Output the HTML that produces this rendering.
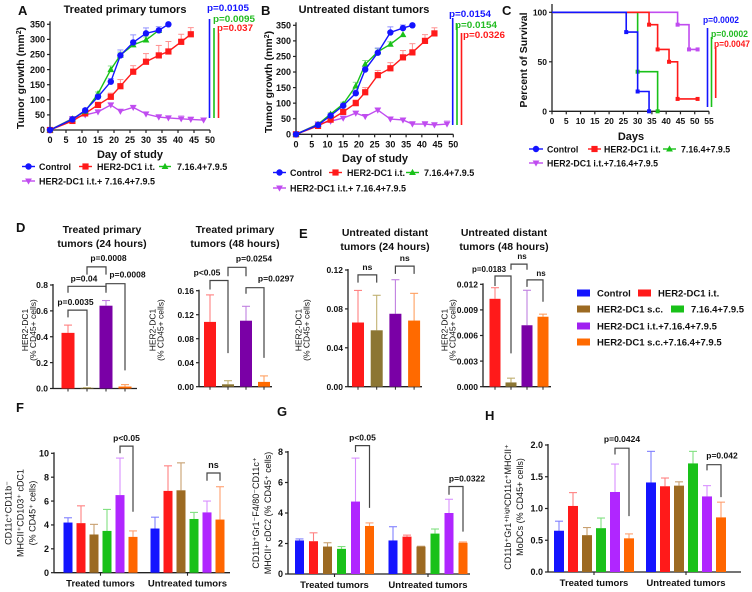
<!DOCTYPE html>
<html><head><meta charset="utf-8"><style>
html,body{margin:0;padding:0;background:#fff;}
svg{display:block;font-family:"Liberation Sans",Arial,sans-serif;}
</style></head><body>
<svg id="fig" width="752" height="592" viewBox="0 0 752 592" xmlns="http://www.w3.org/2000/svg"></svg>
<script>
// ===== Panel A data (treated primary tumors)
const aCtrlDays=[0,7,11,15,19,22,26,30,34,37];
const aCtrlVals=[0,35,65,110,160,247,290,320,330,350];
const aCtrlErr=[0,3,5,8,10,18,25,18,12,0];
const aItDays=[0,7,11,15,19,22,26,30,34,37,41,44];
const aItVals=[0,30,55,83,110,145,193,226,247,260,292,317];
const aItErr=[0,3,5,8,12,22,20,27,33,33,25,22];
const aComboDays=[0,7,11,15,19,22,26,30,34];
const aComboVals=[0,37,62,120,200,248,282,298,330];
const aComboErr=[0,3,5,6,12,10,8,10,0];
const aTripleDays=[0,7,11,15,19,22,26,30,34,37,41,44,48];
const aTripleVals=[0,38,50,60,83,62,75,53,43,40,37,35,33];
const aTripleErr=[0,3,3,3,5,6,5,7,8,6,10,8,6];
// ===== Panel B data (untreated distant tumors)
const bCtrlDays=[0,7,11,15,19,22,26,30,34,37];
const bCtrlVals=[0,30,60,92,132,208,262,327,341,350];
const bCtrlErr=[0,3,5,6,10,8,15,18,10,0];
const bItDays=[0,7,11,15,19,22,26,30,34,37,41,44];
const bItVals=[0,27,47,72,100,135,190,212,247,263,300,324];
const bItErr=[0,3,5,6,10,15,15,18,22,28,20,18];
const bComboDays=[0,7,11,15,19,22,26,30,34];
const bComboVals=[0,32,65,97,155,225,265,289,320];
const bComboErr=[0,3,4,6,12,12,10,8,0];
const bTripleDays=[0,7,11,15,19,22,26,30,34,37,41,44,48];
const bTripleVals=[0,33,42,52,68,57,78,49,46,33,33,30,33];
const bTripleErr=[0,4,4,4,5,5,6,6,6,8,8,8,10];
const lineXTicks=[0,5,10,15,20,25,30,35,40,45,50];
const lineYTicks=[0,50,100,150,200,250,300,350];
// ===== Panel C data (survival)
const cCtrlDays=[0,26,30,34];
const cCtrlVals=[100,80,20,0];
const cItDays=[0,34,37,41,44,51];
const cItVals=[100,87.5,62.5,50,12.5,12.5];
const cComboDays=[0,30,37];
const cComboVals=[100,40,0];
const cTripleDays=[0,44,48,51];
const cTripleVals=[100,87.5,62.5,62.5];
const cXTicks=[0,5,10,15,20,25,30,35,40,45,50,55];
const cYTicks=[0,50,100];
// ===== Panel D/E data (HER2-DC1 % CD45+)
const deGroups=['HER2-DC1 i.t.','HER2-DC1 s.c.','HER2-DC1 i.t.+7.16.4+7.9.5','HER2-DC1 s.c.+7.16.4+7.9.5'];
const d24Vals=[0.43,0.005,0.64,0.015];
const d24Err=[0.49,0.006,0.68,0.03];
const d24Ticks=[0,0.2,0.4,0.6,0.8];
const d48Vals=[0.108,0.004,0.11,0.008];
const d48Err=[0.153,0.01,0.134,0.018];
const d48Ticks=[0,0.04,0.08,0.12,0.16];
const e24Vals=[0.066,0.058,0.075,0.068];
const e24Err=[0.099,0.094,0.11,0.096];
const e24Ticks=[0,0.04,0.08,0.12];
const e48Vals=[0.0103,0.0005,0.0072,0.0082];
const e48Err=[0.0116,0.001,0.0113,0.0085];
const e48Ticks=[0,0.003,0.006,0.009,0.012];
// ===== Panels F/G/H data
const fghCategories=['Treated tumors','Untreated tumors'];
const fTreated=[4.2,4.15,3.2,3.5,6.5,3.0];
const fTreatedErr=[4.6,5.6,4.05,5.3,9.6,3.5];
const fUntreated=[3.7,6.85,6.9,4.5,5.05,4.45];
const fUntreatedErr=[4.65,8.95,9.2,5.05,6.0,7.2];
const fTicks=[0,2,4,6,8,10];
const gTreated=[2.2,2.15,1.8,1.65,4.75,3.15];
const gTreatedErr=[2.3,2.7,2.05,1.8,7.6,3.35];
const gUntreated=[2.2,2.45,1.8,2.65,4.0,2.05];
const gUntreatedErr=[3.1,2.55,1.82,2.95,4.9,2.1];
const gTicks=[0,2,4,6,8];
const hTreated=[0.65,1.04,0.58,0.69,1.26,0.53];
const hTreatedErr=[0.8,1.25,0.7,0.85,1.7,0.6];
const hUntreated=[1.41,1.35,1.36,1.71,1.19,0.86];
const hUntreatedErr=[1.9,1.48,1.42,1.9,1.36,1.1];
const hTicks=[0,0.5,1.0,1.5,2.0];

const NS='http://www.w3.org/2000/svg';
const svg=document.getElementById('fig');
const BLUE='#1414ff',RED='#ff1a1a',GREEN='#19c119',VIOLET='#c04cf0';
function mk(tag,attrs,name,parent){
  const e=document.createElementNS(NS,tag);
  for(const k in attrs) e.setAttribute(k,attrs[k]);
  
  
  (parent||svg).appendChild(e);
  return e;
}
function txt(x,y,s,name,o){
  o=o||{};
  const a={x:x,y:y,'font-size':o.size||9,'font-weight':o.weight||'bold','text-anchor':o.anchor||'start',fill:o.fill||'#111'};
  if(o.rot) a.transform='rotate(-90 '+x+' '+y+')';
  if(o.len){a.textLength=o.len;a.lengthAdjust='spacingAndGlyphs';}
  const t=mk('text',a,name,o.parent);
  t.textContent=s;
  return t;
}
function lin(d0,d1,r0,r1){return v=>r0+(v-d0)*(r1-r0)/(d1-d0);}
function line(x1,y1,x2,y2,name,stroke,w,parent){return mk('line',{x1:x1,y1:y1,x2:x2,y2:y2,stroke:stroke||'#222','stroke-width':w||1.2},name,parent);}
function marker(kind,x,y,color,name,g){
  if(kind==='circle') return mk('circle',{cx:x,cy:y,r:3.2,fill:color},name,g);
  if(kind==='square') return mk('rect',{x:x-3.1,y:y-3.1,width:6.2,height:6.2,fill:color},name,g);
  if(kind==='up') return mk('path',{d:'M'+x+','+(y-3.6)+'L'+(x+3.4)+','+(y+2.5)+'L'+(x-3.4)+','+(y+2.5)+'Z',fill:color},name,g);
  return mk('path',{d:'M'+x+','+(y+3.6)+'L'+(x+3.4)+','+(y-2.5)+'L'+(x-3.4)+','+(y-2.5)+'Z',fill:color},name,g);
}

// ===== line-chart panels
function growthPanel(p){
  const g=mk('g',{},p.name);
  const X=lin(0,50,p.x0,p.x1), Y=lin(0,350,p.y0,p.y1);
  line(p.x0,p.y0,p.x0,p.y1-3,'y-axis','#222',1.3,g);
  line(p.x0,p.y0,p.x1,p.y0,'x-axis','#222',1.3,g);
  lineYTicks.forEach(v=>{line(p.x0-3,Y(v),p.x0,Y(v),'y-tick','#222',1.2,g);txt(p.x0-5,Y(v)+3.2,String(v),'y-tick-label',{anchor:'end',parent:g});});
  lineXTicks.forEach(v=>{line(X(v),p.y0,X(v),p.y0+3,'x-tick','#222',1.2,g);txt(X(v),p.y0+13,String(v),'x-tick-label',{anchor:'middle',parent:g});});
  p.series.forEach(s=>{
    const sg=mk('g',{},s.name,g);
    s.days.forEach((d,i)=>{ if(s.err[i]>0){const yt=Y(s.vals[i]+s.err[i]);line(X(d),Y(s.vals[i]),X(d),yt,'error-bar',s.light,1,sg);line(X(d)-3,yt,X(d)+3,yt,'error-cap',s.light,1,sg);} });
    mk('polyline',{points:s.days.map((d,i)=>X(d)+','+Y(s.vals[i])).join(' '),fill:'none',stroke:s.color,'stroke-width':1.4},'series-line',sg);
    s.days.forEach((d,i)=>marker(s.kind,X(d),Y(s.vals[i]),s.color,'data-point',sg));
  });
  return g;
}
function seriesDef(name,days,vals,err,color,light,kind){return {name:name,days:days,vals:vals,err:err,color:color,light:light,kind:kind};}
growthPanel({name:'panel-a-chart',x0:50,x1:210,y0:130,y1:24.3,series:[
  seriesDef('series-her2dc1-combo',aTripleDays,aTripleVals,aTripleErr,VIOLET,'#dda0f5','down'),
  seriesDef('series-her2dc1-it',aItDays,aItVals,aItErr,RED,'#ff9090','square'),
  seriesDef('series-7164-795',aComboDays,aComboVals,aComboErr,GREEN,'#90e090','up'),
  seriesDef('series-control',aCtrlDays,aCtrlVals,aCtrlErr,BLUE,'#9090ff','circle')]});
growthPanel({name:'panel-b-chart',x0:296,x1:453.3,y0:134.3,y1:25.3,series:[
  seriesDef('series-her2dc1-combo',bTripleDays,bTripleVals,bTripleErr,VIOLET,'#dda0f5','down'),
  seriesDef('series-her2dc1-it',bItDays,bItVals,bItErr,RED,'#ff9090','square'),
  seriesDef('series-7164-795',bComboDays,bComboVals,bComboErr,GREEN,'#90e090','up'),
  seriesDef('series-control',bCtrlDays,bCtrlVals,bCtrlErr,BLUE,'#9090ff','circle')]});

txt(18,15,'A','panel-label-a',{size:13});
txt(125,13,'Treated primary tumors','panel-a-title',{size:11,anchor:'middle'});
txt(364,13,'Untreated distant tumors','panel-b-title',{size:11,anchor:'middle'});
txt(261,15,'B','panel-label-b',{size:13});
function ylabelMM(x,y,name){const t=txt(x,y,'Tumor growth (mm','y-axis-title',{size:10.5,anchor:'middle',rot:true});const s=document.createElementNS(NS,'tspan');s.setAttribute('baseline-shift','super');s.setAttribute('font-size','7');s.textContent='2';t.appendChild(s);const s2=document.createElementNS(NS,'tspan');s2.textContent=')';t.appendChild(s2);}
ylabelMM(24,78,'panel-a-y-axis-title');
ylabelMM(272,82,'panel-b-y-axis-title');
txt(130,158,'Day of study','panel-a-x-axis-title',{size:11,anchor:'middle'});
txt(375,162,'Day of study','panel-b-x-axis-title',{size:11,anchor:'middle'});
// p-values
[[207,11,'p=0.0105',BLUE,42],[213,22,'p=0.0095','#22bb22',42],[217,31,'p=0.037',RED,36],
 [449,17,'p=0.0154',BLUE,42],[455,28,'p=0.0154','#22bb22',42],[463,38,'p=0.0326',RED,42],
 [703,23,'p=0.0002',BLUE,36],[711,37,'p=0.0002','#22bb22',37],[714,47,'p=0.0047',RED,36]].forEach(a=>txt(a[0],a[1],a[2],'p-value-label',{size:9.5,fill:a[3],len:a[4]}));
[[209.5,19,118,BLUE],[214,28,118,GREEN],[218.5,33,118,RED],
 [452.7,18,125,BLUE],[457,24,125,GREEN],[461.5,33,125,RED],
 [707.5,28,107,BLUE],[711.5,37,107,GREEN],[715.7,47,98,RED]].forEach(a=>line(a[0],a[1],a[0],a[2],'significance-line',a[3],1.6));

// line legends
function legItem(x1,x2,y,kind,color,label,tx,name,size){
  const g=mk('g',{},name);
  line(x1,y,x2,y,'legend-line',color,1.4,g);
  marker(kind,(x1+x2)/2,y,color,'legend-marker',g);
  txt(tx,y+3.5,label,'legend-label',{size:size||9,parent:g});
}
legItem(22,35,166.5,'circle',BLUE,'Control',39,'legend-a-control');
legItem(79,92,166.5,'square',RED,'HER2-DC1 i.t.',97,'legend-a-her2dc1-it');
legItem(159,171,166.5,'up',GREEN,'7.16.4+7.9.5',177,'legend-a-7164-795');
legItem(22,35,181,'down',VIOLET,'HER2-DC1 i.t.+ 7.16.4+7.9.5',39,'legend-a-combo');
legItem(273,286,172.5,'circle',BLUE,'Control',290,'legend-b-control');
legItem(329,342,172.5,'square',RED,'HER2-DC1 i.t.',347,'legend-b-her2dc1-it');
legItem(406,419,172.5,'up',GREEN,'7.16.4+7.9.5',424,'legend-b-7164-795');
legItem(273,286,188,'down',VIOLET,'HER2-DC1 i.t.+ 7.16.4+7.9.5',290,'legend-b-combo');
legItem(529,543,149,'circle',BLUE,'Control',547,'legend-c-control',8.8);
legItem(588,601,149,'square',RED,'HER2-DC1 i.t.',604,'legend-c-her2dc1-it',8.8);
legItem(663,676,149,'up',GREEN,'7.16.4+7.9.5',681,'legend-c-7164-795',8.8);
legItem(529,543,163,'down',VIOLET,'HER2-DC1 i.t.+7.16.4+7.9.5',547,'legend-c-combo',8.8);

// ===== Panel C survival
(function(){
  const g=mk('g',{},'panel-c-chart');
  const x0=552,X=lin(0,55,552,709),Y=lin(0,100,111.3,12.3);
  line(x0,111.3,x0,4,'y-axis','#222',1.3,g);
  line(x0,111.3,709,111.3,'x-axis','#222',1.3,g);
  cYTicks.forEach(v=>{line(x0-3,Y(v),x0,Y(v),'y-tick','#222',1.2,g);txt(x0-5,Y(v)+3.2,String(v),'y-tick-label',{anchor:'end',size:8.5,parent:g});});
  cXTicks.forEach(v=>{line(X(v),111.3,X(v),114.3,'x-tick','#222',1.2,g);txt(X(v),124,String(v),'x-tick-label',{anchor:'middle',size:8.5,parent:g});});
  function surv(days,vals,color,name){
    const sg=mk('g',{},name,g);
    let d='M'+X(days[0])+','+Y(vals[0]);
    for(let i=1;i<days.length;i++){d+='H'+X(days[i])+'V'+Y(vals[i]);}
    mk('path',{d:d,fill:'none',stroke:color,'stroke-width':1.6},'survival-curve',sg);
    for(let i=1;i<days.length;i++) mk('rect',{x:X(days[i])-2,y:Y(vals[i])-2,width:4,height:4,fill:color},'survival-point',sg);
  }
  surv(cTripleDays,cTripleVals,VIOLET,'series-her2dc1-combo');
  surv(cComboDays,cComboVals,GREEN,'series-7164-795');
  surv(cItDays,cItVals,RED,'series-her2dc1-it');
  surv(cCtrlDays,cCtrlVals,BLUE,'series-control');
  txt(502,15,'C','panel-label-c',{size:13});
  txt(527,60,'Percent of Survival','panel-c-y-axis-title',{size:10.5,anchor:'middle',rot:true});
  txt(631,140,'Days','panel-c-x-axis-title',{size:11,anchor:'middle'});
})();

// ===== bar panels
function barPanel(p){
  const g=mk('g',{},p.name);
  const Y=lin(0,p.ymax,p.y0,p.ytop);
  line(p.x0,p.y0,p.x0,p.ytop-1,'y-axis','#222',1.3,g);
  line(p.x0,p.y0,p.xend,p.y0,'x-axis','#222',1.3,g);
  p.ticks.forEach((v,i)=>{line(p.x0-3,Y(v),p.x0,Y(v),'y-tick','#222',1.2,g);txt(p.x0-5,Y(v)+3.2,p.tickFmt(v),'y-tick-label',{anchor:'end',size:p.tsize||9,parent:g});});
  const cx=(gi,i)=>p.start+gi*p.groupOff+i*p.step;
  p.groups.forEach((vals,gi)=>{
    const errs=p.errs[gi];
    vals.forEach((v,i)=>{
      const x=cx(gi,i),col=p.colors[i];
      const bg=mk('g',{},'bar-'+p.barNames[i],g);
      const yt=Y(errs[i]);
      line(x,Y(v),x,yt,'error-bar',p.light[i],1.1,bg);
      line(x-4,yt,x+4,yt,'error-cap',p.light[i],1.1,bg);
      mk('rect',{x:x-p.bw/2,y:Y(v),width:p.bw,height:p.y0-Y(v),fill:col},'bar',bg);
      if(p.barTicks) line(x,p.y0,x,p.y0+3,'x-tick','#222',1,g);
    });
    if(p.catLabels){const mid=(cx(gi,0)+cx(gi,vals.length-1))/2;line(mid,p.y0,mid,p.y0+3,'x-tick','#222',1.1,g);txt(mid,p.y0+14,p.catLabels[gi],'category-label',{anchor:'middle',size:9.5,parent:g});}
  });
  (p.brackets||[]).forEach(b=>{
    const bg=mk('g',{},'significance-bracket',g);
    const x1=cx(b.g||0,b.i),x2=cx(b.g||0,b.j);
    mk('path',{d:'M'+x1+','+Y(b.lb)+'V'+Y(b.top)+'H'+x2+'V'+Y(b.rb),fill:'none',stroke:'#444','stroke-width':1.2},'bracket-line',bg);
    txt((x1+x2)/2+(b.dx||0),Y(b.top)-(b.dy||5),b.label,'significance-label',{anchor:'middle',size:b.size||8.5,parent:bg});
  });
  return g;
}
const deColors=[RED,'#8c7633','#7a00a6','#ff6a00'];
const deLight=['#ff8080','#c0b070','#c080e0','#ffa060'];
const deNames=['her2dc1-it','her2dc1-sc','her2dc1-it-combo','her2dc1-sc-combo'];
const f1=v=>v.toFixed(1),f2=v=>v.toFixed(2),f3=v=>v.toFixed(3);
barPanel({name:'panel-d-24h-chart',x0:53,xend:137,y0:388.5,ytop:285,ymax:0.8,ticks:d24Ticks,tickFmt:f1,tsize:8.5,start:68,step:19,groupOff:0,bw:13,
  groups:[d24Vals],errs:[d24Err],colors:deColors,light:deLight,barNames:deNames,barTicks:true,
  brackets:[{i:0,j:1,top:0.606,lb:0.55,rb:0.02,label:'p=0.0035',dx:-2},
            {i:0,j:2,top:0.79,lb:0.74,rb:0.74,label:'p=0.04',dx:-3},
            {i:1,j:2,top:0.94,lb:0.88,rb:0.88,label:'p=0.0008',dx:12,dy:6},
            {i:2,j:3,top:0.81,lb:0.76,rb:0.14,label:'p=0.0008',dx:12,dy:6}]});
barPanel({name:'panel-d-48h-chart',x0:199,xend:272,y0:386.7,ytop:290.7,ymax:0.16,ticks:d48Ticks,tickFmt:f2,tsize:8.5,start:210,step:18,groupOff:0,bw:12,
  groups:[d48Vals],errs:[d48Err],colors:deColors,light:deLight,barNames:deNames,barTicks:true,
  brackets:[{i:0,j:1,top:0.177,lb:0.162,rb:0.056,label:'p<0.05',dx:-12,dy:5},
            {i:1,j:2,top:0.199,lb:0.184,rb:0.184,label:'p=0.0254',dx:17,dy:6},
            {i:2,j:3,top:0.165,lb:0.155,rb:0.048,label:'p=0.0297',dx:21,dy:6}]});
barPanel({name:'panel-e-24h-chart',x0:348,xend:422,y0:386.7,ytop:270,ymax:0.12,ticks:e24Ticks,tickFmt:f2,tsize:8.5,start:358,step:18.7,groupOff:0,bw:12,
  groups:[e24Vals],errs:[e24Err],colors:deColors,light:deLight,barNames:deNames,barTicks:true,
  brackets:[{i:0,j:1,top:0.115,lb:0.107,rb:0.107,label:'ns',dy:5},
            {i:2,j:3,top:0.124,lb:0.116,rb:0.116,label:'ns',dy:5}]});
barPanel({name:'panel-e-48h-chart',x0:483,xend:551,y0:386.7,ytop:284.3,ymax:0.012,ticks:e48Ticks,tickFmt:f3,start:495,step:16,groupOff:0,bw:11,tsize:8.5,
  groups:[e48Vals],errs:[e48Err],colors:deColors,light:deLight,barNames:deNames,barTicks:true,
  brackets:[{i:0,j:1,top:0.01297,lb:0.0118,rb:0.0039,label:'p=0.0183',dx:-14,dy:4,size:8},
            {i:1,j:2,top:0.01436,lb:0.0137,rb:0.0137,label:'ns',dx:3,dy:5,size:8},
            {i:2,j:3,top:0.01252,lb:0.0117,rb:0.00996,label:'ns',dx:6,dy:4,size:8}]});
txt(16,232,'D','panel-label-d',{size:13});
txt(299,238,'E','panel-label-e',{size:13});
[[102,233,'Treated primary'],[102,247,'tumors (24 hours)'],[235,233,'Treated primary'],[235,247,'tumors (48 hours)'],
 [385,236,'Untreated distant'],[385,250,'tumors (24 hours)'],[504,236,'Untreated distant'],[504,250,'tumors (48 hours)']]
 .forEach(a=>txt(a[0],a[1],a[2],'panel-title',{size:10.5,anchor:'middle'}));
[[28,330],[155.5,330],[301.5,330],[447.5,330]].forEach(a=>{
  txt(a[0],a[1],'HER2-DC1','y-axis-title',{size:8.5,weight:'normal',anchor:'middle',rot:true});
  txt(a[0]+8,a[1],'(% CD45+ cells)','y-axis-title',{size:8.5,weight:'normal',anchor:'middle',rot:true});
});
// D/E legend
[[577,293,'#1414ff','Control'],[638,293,RED,'HER2-DC1 i.t.'],[577,309,'#9c6a22','HER2-DC1 s.c.'],[671,309,'#19c119','7.16.4+7.9.5'],
 [577,326,'#a020f0','HER2-DC1 i.t.+7.16.4+7.9.5'],[577,342,'#ff6a00','HER2-DC1 s.c.+7.16.4+7.9.5']].forEach(a=>{
  const g=mk('g',{},'legend-entry');
  mk('rect',{x:a[0],y:a[1]-3.5,width:13,height:7,fill:a[2]},'legend-swatch',g);
  txt(a[0]+20,a[1]+3.5,a[3],'legend-label',{size:9.5,parent:g});
});

// F/G/H
const fgColors=['#1414ff',RED,'#9c6a22','#19c119','#b026ff','#ff6600'];
const fgLight=['#8080ff','#ff8080','#c8a070','#80e080','#d890ff','#ffa070'];
const fgNames=['control','her2dc1-it','her2dc1-sc','7164-795','her2dc1-it-combo','her2dc1-sc-combo'];
barPanel({name:'panel-f-chart',x0:54,xend:230,y0:572.7,ytop:453.3,ymax:10,ticks:fTicks,tickFmt:v=>String(v),start:68,step:13,groupOff:87,bw:9,
  groups:[fTreated,fUntreated],errs:[fTreatedErr,fUntreatedErr],colors:fgColors,light:fgLight,barNames:fgNames,catLabels:fghCategories,
  brackets:[{g:0,i:4,j:5,top:10.6,lb:10.0,rb:5.1,label:'p<0.05',dy:5},{g:1,i:4,j:5,top:8.35,lb:7.7,rb:7.7,label:'ns',dy:5,size:9}]});
barPanel({name:'panel-g-chart',x0:288,xend:470,y0:574,ytop:452,ymax:8,ticks:gTicks,tickFmt:v=>String(v),start:299.5,step:14,groupOff:93.5,bw:9,
  groups:[gTreated,gUntreated],errs:[gTreatedErr,gUntreatedErr],colors:fgColors,light:fgLight,barNames:fgNames,catLabels:fghCategories,
  brackets:[{g:0,i:4,j:5,top:8.42,lb:8.0,rb:4.34,label:'p<0.05',dy:5},{g:1,i:4,j:5,top:5.74,lb:5.2,rb:2.78,label:'p=0.0322',dx:11,dy:5}]});
barPanel({name:'panel-h-chart',x0:548,xend:741,y0:572,ytop:445,ymax:2,ticks:hTicks,tickFmt:f1,start:559,step:14,groupOff:92,bw:10,
  groups:[hTreated,hUntreated],errs:[hTreatedErr,hUntreatedErr],colors:fgColors,light:fgLight,barNames:fgNames,catLabels:fghCategories,
  brackets:[{g:0,i:4,j:5,top:1.95,lb:1.85,rb:0.88,label:'p=0.0424',dy:6},{g:1,i:4,j:5,top:1.69,lb:1.6,rb:1.18,label:'p=0.042',dx:8,dy:6}]});
txt(16,412,'F','panel-label-f',{size:13});
txt(277,416,'G','panel-label-g',{size:13});
txt(485,420,'H','panel-label-h',{size:13});
[[11.5,513,'CD11c⁺CD11b⁻'],[23.5,513,'MHCII⁺CD103⁺ cDC1'],[35.5,513,'(% CD45⁺ cells)'],
 [259,513,'CD11b⁺Gr1⁻F4/80⁻CD11c⁺'],[271,513,'MHCII⁺ cDC2 (% CD45⁺ cells)'],
 [511,507,'CD11b⁺Gr1⁺ʰⁱᵍʰCD11c⁺MHCII⁺'],[523,507,'MoDCs (% CD45+ cells)']]
 .forEach(a=>txt(a[0],a[1],a[2],'y-axis-title',{size:9,weight:'normal',anchor:'middle',rot:true}));
</script>
</body></html>
